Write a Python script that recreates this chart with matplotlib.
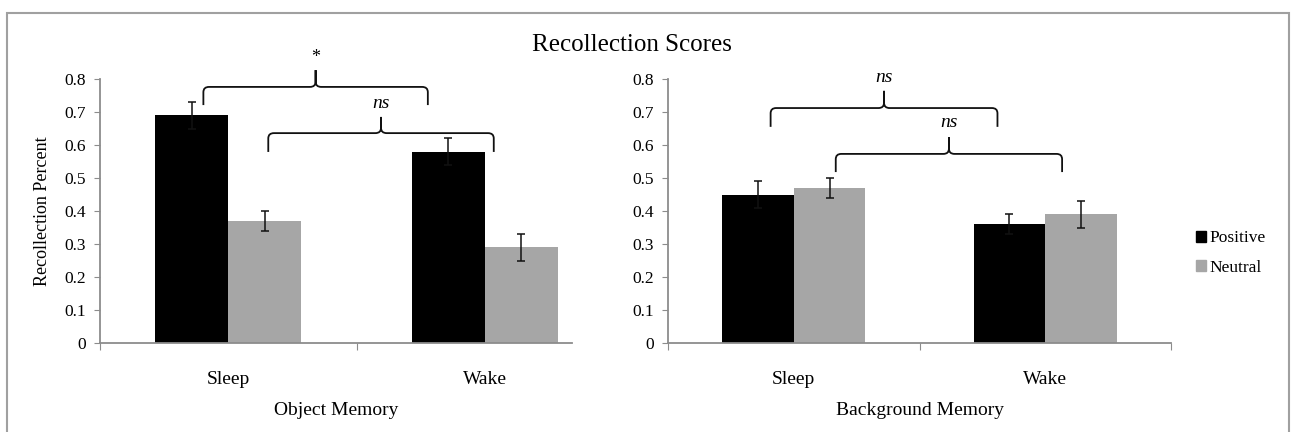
import numpy as np
import matplotlib
matplotlib.use("Agg")
import matplotlib.pyplot as plt
import matplotlib.patches as patches
from matplotlib.path import Path

plt.rcParams['font.family'] = ['Liberation Serif', 'DejaVu Serif']

# data
conditions = ["Sleep", "Wake"]
series = ["Positive", "Neutral"]
object_pos = [0.69, 0.58]
object_pos_err = [0.04, 0.04]
object_neu = [0.37, 0.29]
object_neu_err = [0.03, 0.04]
background_pos = [0.45, 0.36]
background_pos_err = [0.04, 0.03]
background_neu = [0.47, 0.39]
background_neu_err = [0.03, 0.04]

colors = {"Positive": "#000000", "Neutral": "#a6a6a6"}
axis_gray = "#8c8c8c"
bar_w = 0.285


def brace(ax, x0, x1, y, drop, rise, label, label_y, fs, italic):
    """Curly brace spanning x0..x1 at height y, tip pointing up."""
    rx, ry = 0.022, 0.016
    xc = (x0 + x1) / 2
    verts = [(x0, y - drop), (x0, y - ry), (x0, y), (x0 + rx, y),
             (xc - rx, y), (xc, y), (xc, y + ry), (xc, y + rise),
             (xc, y + ry), (xc, y), (xc + rx, y),
             (x1 - rx, y), (x1, y), (x1, y - ry), (x1, y - drop)]
    codes = [Path.MOVETO, Path.LINETO, Path.CURVE3, Path.CURVE3,
             Path.LINETO, Path.CURVE3, Path.CURVE3, Path.LINETO,
             Path.LINETO, Path.CURVE3, Path.CURVE3,
             Path.LINETO, Path.CURVE3, Path.CURVE3, Path.LINETO]
    ax.add_patch(patches.PathPatch(Path(verts, codes), fill=False,
                                   edgecolor="#111111", lw=1.3,
                                   clip_on=False))
    ax.text(xc, label_y, label, ha="center", va="center", fontsize=fs,
            style="italic" if italic else "normal", clip_on=False)


def panel(ax, pos, pos_err, neu, neu_err, xlabel, xlim, xticks):
    x = np.arange(len(conditions))
    ax.bar(x - bar_w / 2, pos, bar_w, color=colors["Positive"],
           label="Positive", zorder=2)
    ax.bar(x + bar_w / 2, neu, bar_w, color=colors["Neutral"],
           label="Neutral", zorder=2)
    ax.errorbar(x - bar_w / 2, pos, yerr=pos_err, fmt="none", ecolor="#111111",
                elinewidth=1.1, capsize=3, capthick=1.1, zorder=3)
    ax.errorbar(x + bar_w / 2, neu, yerr=neu_err, fmt="none", ecolor="#111111",
                elinewidth=1.1, capsize=3, capthick=1.1, zorder=3)

    ax.set_ylim(0, 0.8)
    ax.set_xlim(*xlim)
    ax.set_yticks(np.arange(0, 0.81, 0.1))
    ax.set_yticklabels(["0"] + [f"{v:.1f}" for v in np.arange(0.1, 0.81, 0.1)])
    ax.set_xticks(xticks)
    ax.set_xticklabels([])
    ax.set_xticks(x, minor=True)
    ax.set_xticklabels(conditions, minor=True)
    ax.tick_params(axis="x", which="major", length=5, color=axis_gray,
                   direction="out")
    ax.tick_params(axis="x", which="minor", length=0, pad=20, labelsize=14)
    ax.tick_params(axis="y", length=4, color=axis_gray, labelsize=12.5, pad=6)
    for s in ["top", "right"]:
        ax.spines[s].set_visible(False)
    for s in ["left", "bottom"]:
        ax.spines[s].set_color(axis_gray)
        ax.spines[s].set_linewidth(1.3)
    ax.set_xlabel(xlabel, fontsize=14, labelpad=10)


fig = plt.figure(figsize=(12.96, 4.32), dpi=100)

ax1 = fig.add_axes([100 / 1296, 89 / 432, 472 / 1296, 264 / 432])
ax2 = fig.add_axes([668 / 1296, 89 / 432, 503 / 1296, 264 / 432])

panel(ax1, object_pos, object_pos_err, object_neu, object_neu_err,
      "Object Memory", (-0.5, 1.34), [-0.5, 0.5])
panel(ax2, background_pos, background_pos_err, background_neu,
      background_neu_err, "Background Memory", (-0.5, 1.5), [-0.5, 0.5, 1.5])
ax1.set_ylabel("Recollection Percent", fontsize=13, labelpad=10)

# significance braces
brace(ax1, -0.097, 0.778, 0.776, 0.055, 0.051, "*", 0.864, 13, False)
brace(ax1, 0.156, 1.035, 0.636, 0.057, 0.049, "ns", 0.727, 14, True)
brace(ax2, -0.092, 0.81, 0.712, 0.057, 0.052, "ns", 0.805, 14, True)
brace(ax2, 0.167, 1.067, 0.573, 0.055, 0.051, "ns", 0.668, 14, True)

fig.text(632 / 1296, (432 - 45) / 432, "Recollection Scores", ha="center",
         va="center", fontsize=18)

handles = [patches.Patch(color=colors[s], label=s) for s in series]
fig.legend(handles=handles, loc="center left",
           bbox_to_anchor=(1196 / 1296, (432 - 253) / 432), frameon=False,
           fontsize=12.5, handlelength=0.6, handleheight=0.6,
           handletextpad=0.2, labelspacing=0.75, borderaxespad=0,
           borderpad=0)

# outer chart border
fig.add_artist(patches.Rectangle((7 / 1296, -0.01), 1282 / 1296,
                                 (432 - 13) / 432 + 0.01,
                                 transform=fig.transFigure, fill=False,
                                 edgecolor="#a0a0a0", lw=1.5))

fig.savefig("out.png", dpi=100)
